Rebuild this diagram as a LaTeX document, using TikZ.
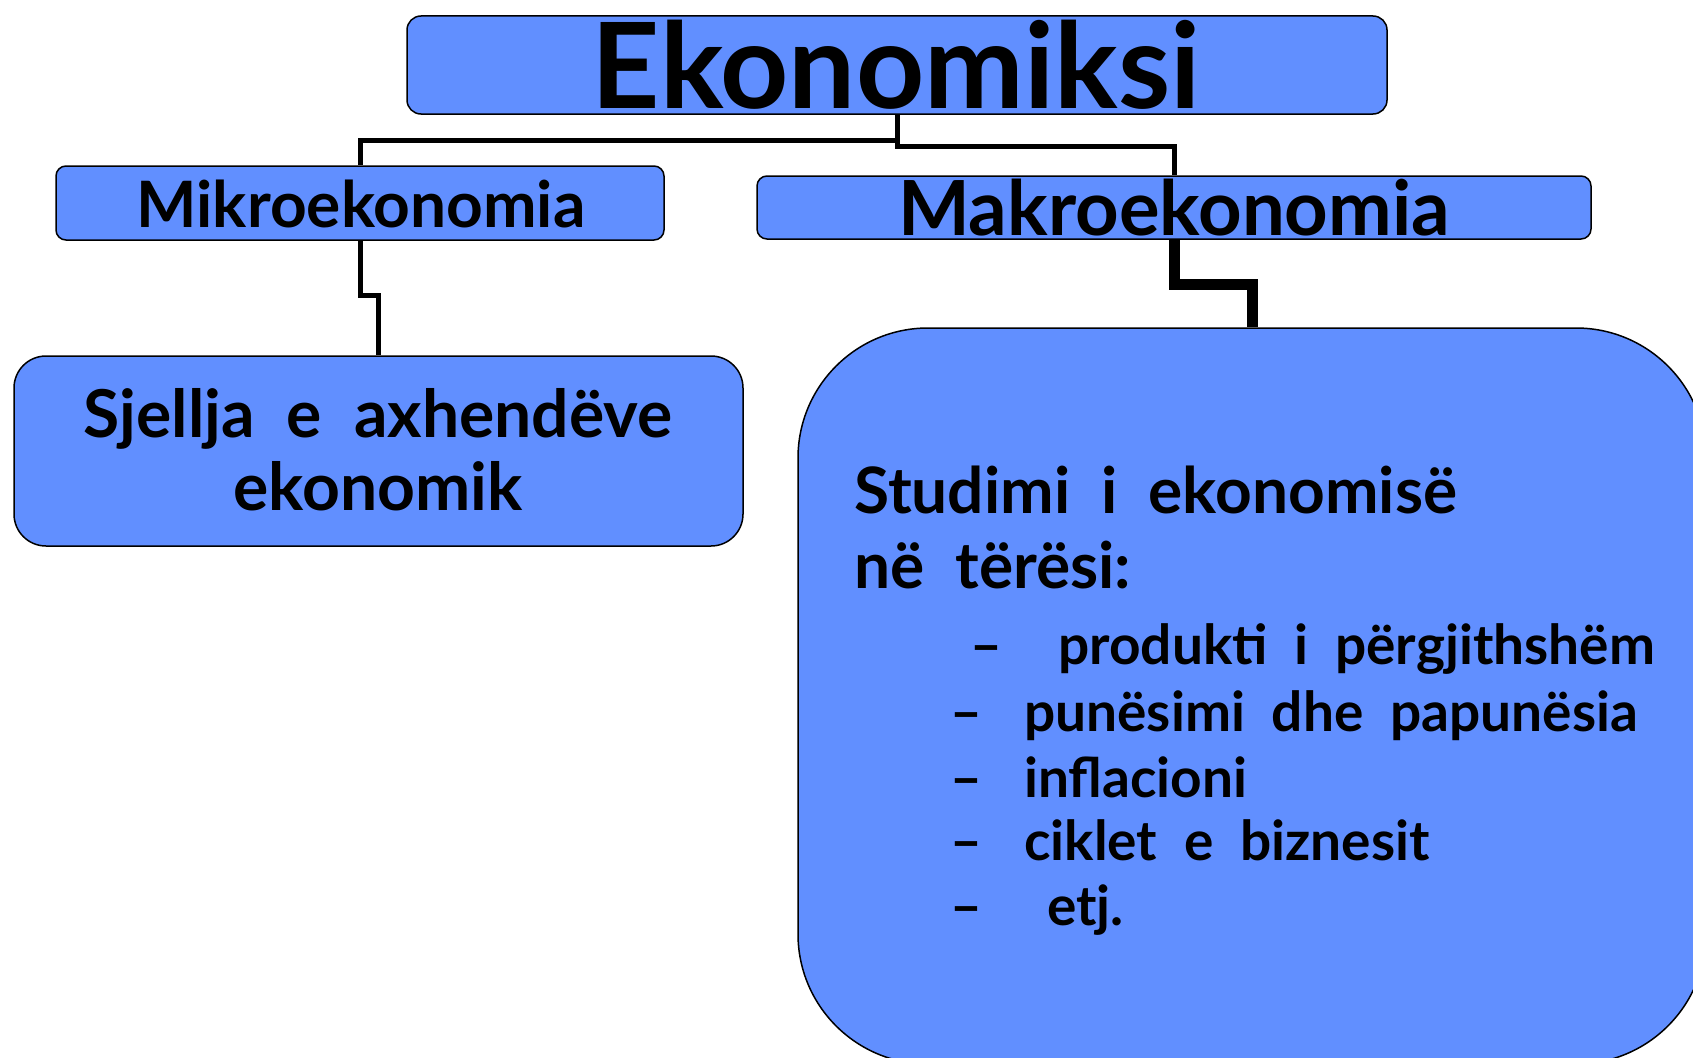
\documentclass[tikz,border=0pt]{standalone}
\usepackage{fontspec}
\setmainfont{Lato}[WordSpace=2]
\usetikzlibrary{positioning,calc}
\definecolor{boxblue}{RGB}{97,143,255}
\newcommand{\fsz}[1]{\fontsize{#1pt}{#1pt}\selectfont\bfseries}

\begin{document}
\begin{tikzpicture}[x=1pt,y=-1pt,
    ebox/.style={draw, fill=boxblue, line width=1.5pt, rounded corners=#1, inner sep=0pt},
    link/.style={line width=5pt},
    txt/.style={anchor=base west, inner sep=0pt}]
  \useasboundingbox (0,0) rectangle (1693,1057);
  % boxes
  \node[ebox=14pt, minimum width=980pt, minimum height=98pt] (titull) at (897,65) {};
  \node[ebox=10pt, minimum width=608pt, minimum height=74pt] (mikro) at (360,203) {};
  \node[ebox=10pt, minimum width=834pt, minimum height=63pt] (makro) at (1174,207.5) {};
  \node[ebox=32pt, minimum width=729pt, minimum height=190pt] (sjellja) at (378.5,451) {};
  \node[ebox=130pt, minimum width=908pt, minimum height=736pt] (studim) at (1252,696) {};
  % connectors
  \draw[link] (titull.south) -- ++(0,26) -| (mikro.north);
  \draw[link] (titull.south) -- ++(0,32) -| (makro.north);
  \draw[link] (mikro.south) -- ++(0,55) -| (sjellja.north);
  \draw[line width=11pt] (makro.south) -- ++(0,45) -| (studim.north);
  % titles
  \node[anchor=base, inner sep=0pt] (tEkon) at (896,108) {\fsz{119}Ekonomiksi};
  \node[anchor=base, inner sep=0pt] (tMikro) at (361,227) {\fsz{64}Mikroekonomia};
  \node[anchor=base, inner sep=0pt] (tMakro) at (1174,235) {\fsz{76}Makroekonomia};
  \node[anchor=base, inner sep=0pt] (tSj1) at (378,437) {\fsz{66}Sjellja e axhendëve};
  \node[anchor=base, inner sep=0pt] (tSj2) at (378,510) {\fsz{66}ekonomik};
  % big box text
  \node[txt] (st1) at (854,513) {\fsz{64}Studimi i ekonomisë};
  \node[txt] (st2) at (854,588) {\fsz{64}në tërësi:};
  \node[txt] (d1) at (970,664) {\fsz{55}–};
  \node[txt] (i1) at (1058,664) {\fsz{55}produkti i përgjithshëm};
  \node[txt] (d2) at (950,731) {\fsz{55}–};
  \node[txt] (i2) at (1024,731) {\fsz{55}punësimi dhe papunësia};
  \node[txt] (d3) at (950,797) {\fsz{55}–};
  \node[txt] (i3) at (1024,797) {\fsz{55}inflacioni};
  \node[txt] (d4) at (950,860) {\fsz{55}–};
  \node[txt] (i4) at (1024,860) {\fsz{55}ciklet e biznesit};
  \node[txt] (d5) at (950,925) {\fsz{55}–};
  \node[txt] (i5) at (1047,925) {\fsz{55}etj.};
\end{tikzpicture}
\end{document}
